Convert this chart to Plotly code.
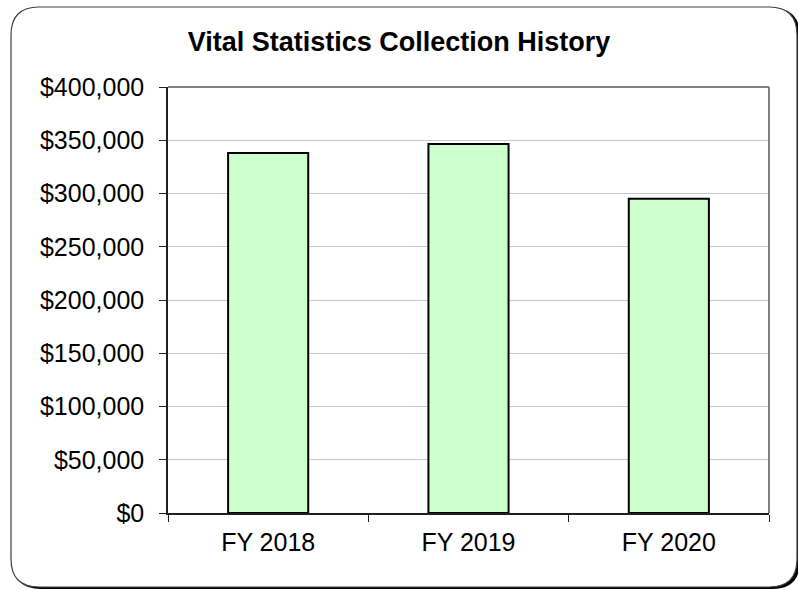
import plotly.graph_objects as go

categories = ["FY 2018", "FY 2019", "FY 2020"]
collections = [338000, 346500, 295000]
y_tick_values = [0, 50000, 100000, 150000, 200000, 250000, 300000, 350000, 400000]
y_tick_labels = ["$0", "$50,000", "$100,000", "$150,000", "$200,000",
                 "$250,000", "$300,000", "$350,000", "$400,000"]

W, H = 798, 590
L, R, T, B = 168, 769, 87, 513


def px(x):
    return (x - L) / (R - L)


def py(y):
    return (B - y) / (B - T)


def rounded_path(x0, y0, x1, y1, r):
    return (f"M {px(x0 + r)} {py(y0)} L {px(x1 - r)} {py(y0)} "
            f"Q {px(x1)} {py(y0)} {px(x1)} {py(y0 + r)} "
            f"L {px(x1)} {py(y1 - r)} "
            f"Q {px(x1)} {py(y1)} {px(x1 - r)} {py(y1)} "
            f"L {px(x0 + r)} {py(y1)} "
            f"Q {px(x0)} {py(y1)} {px(x0)} {py(y1 - r)} "
            f"L {px(x0)} {py(y0 + r)} "
            f"Q {px(x0)} {py(y0)} {px(x0 + r)} {py(y0)} Z")


fig = go.Figure(go.Bar(
    x=categories, y=collections,
    marker=dict(color="#CCFFCC", line=dict(color="black", width=2)),
))

shapes = [
    dict(type="path", xref="paper", yref="paper", layer="below",
         path=rounded_path(13, 8, 800, 589, 28),
         fillcolor="black", line=dict(width=0)),
    dict(type="path", xref="paper", yref="paper", layer="below",
         path=rounded_path(11, 7, 797, 587, 28),
         fillcolor="white", line=dict(color="#404040", width=1.2)),
    dict(type="line", xref="paper", yref="paper", layer="above",
         x0=0, x1=1, y0=1, y1=1, line=dict(color="#808080", width=2)),
    dict(type="line", xref="paper", yref="paper", layer="above",
         x0=1, x1=1, y0=0, y1=1, line=dict(color="#808080", width=2)),
]

font_family = "Arial, Liberation Sans, sans-serif"

fig.update_layout(
    width=W, height=H,
    margin=dict(l=L, r=W - R, t=T, b=H - B),
    paper_bgcolor="white", plot_bgcolor="white",
    bargap=0.6,
    showlegend=False,
    shapes=shapes,
    font=dict(family=font_family, color="black", size=25),
    title=dict(text="<b>Vital Statistics Collection History</b>",
               x=0.5, xanchor="center", y=1 - 42 / H, yanchor="middle",
               font=dict(family=font_family, size=27, color="black")),
    xaxis=dict(type="category", tickson="boundaries", ticks="outside",
               ticklen=7, tickcolor="#202020", tickwidth=1,
               showline=True, linecolor="#202020", linewidth=1.5,
               showgrid=False, ticklabelstandoff=6,
               tickfont=dict(size=25)),
    yaxis=dict(range=[0, 400000], tickvals=y_tick_values,
               ticktext=y_tick_labels, ticks="outside", ticklen=7,
               tickcolor="#202020", tickwidth=1,
               showline=True, linecolor="#202020", linewidth=1.5,
               showgrid=True, gridcolor="#c8c8c8", gridwidth=1,
               zeroline=False, ticklabelstandoff=10,
               tickfont=dict(size=25)),
)

fig.write_html("out.html",
               config={"displayModeBar": False},
               post_script="document.body.style.margin='0';"
                           "document.body.style.overflow='hidden';")
